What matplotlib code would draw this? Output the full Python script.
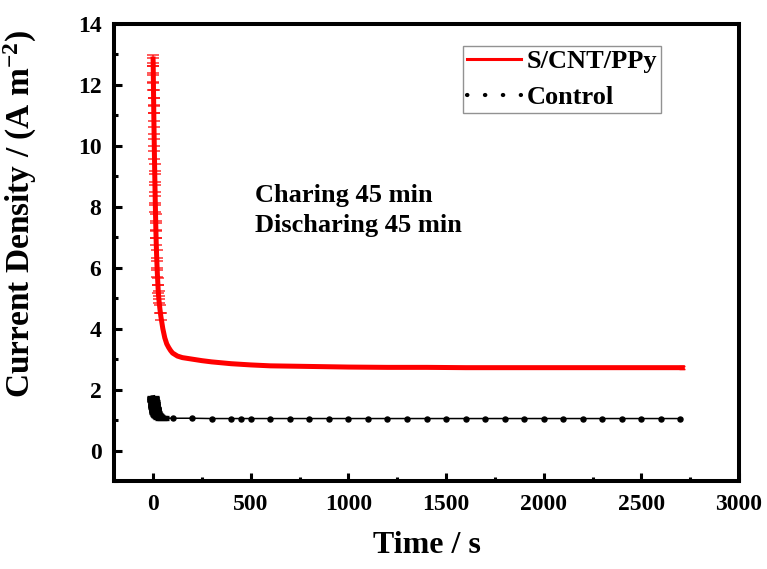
import matplotlib
matplotlib.use("Agg")
import matplotlib.pyplot as plt
from matplotlib.lines import Line2D
from matplotlib.ticker import MultipleLocator

# ---- data ----
red_t = [0, 0.5, 1, 1.5, 2, 2.5, 3, 3.5, 4, 5, 6, 7, 8, 9, 10, 11, 12, 13, 14, 15,
         16, 18, 20, 22, 24, 26, 28, 30, 35, 40, 45, 50, 60, 70, 80, 90, 100, 125,
         150, 200, 250, 300, 400, 500, 600, 700, 800, 1000, 1200, 1400, 1600, 1800,
         2000, 2200, 2400, 2600, 2710]
red_v = [12.85, 12.75, 12.5, 12.2, 11.95, 11.7, 11.45, 11.2, 10.95, 10.5, 10.1, 9.7,
         9.3, 8.95, 8.6, 8.25, 7.95, 7.65, 7.35, 7.1, 6.85, 6.45, 6.1, 5.8, 5.55,
         5.3, 5.1, 4.95, 4.65, 4.4, 4.2, 4.0, 3.7, 3.5, 3.38, 3.28, 3.2, 3.1, 3.05,
         3.0, 2.95, 2.91, 2.85, 2.81, 2.78, 2.77, 2.76, 2.74, 2.73, 2.73, 2.72, 2.72,
         2.72, 2.72, 2.72, 2.72, 2.72]
red_err = 0.12
red_err_until = 40  # error bars visible only in the initial spike (s)

ctrl_spike_t = [0, 1, 2, 3, 4, 5, 6, 7, 8, 9, 10, 11, 12, 14, 16, 18, 20, 25, 30,
                40, 50]
ctrl_spike_v = [1.74, 1.69, 1.64, 1.59, 1.54, 1.5, 1.46, 1.42, 1.38, 1.35, 1.32,
                1.29, 1.27, 1.23, 1.2, 1.17, 1.15, 1.12, 1.1, 1.08, 1.07]
ctrl_t = [50, 100, 200, 300, 400, 450, 500, 600, 700, 800, 900, 1000, 1100, 1200,
          1300, 1400, 1500, 1600, 1700, 1800, 1900, 2000, 2100, 2200, 2300, 2400,
          2500, 2600, 2700, 2710]
ctrl_v = [1.07, 1.06, 1.06, 1.05, 1.05, 1.05, 1.05, 1.05, 1.05, 1.05, 1.05, 1.05,
          1.05, 1.05, 1.05, 1.05, 1.05, 1.05, 1.05, 1.05, 1.05, 1.05, 1.05, 1.05,
          1.05, 1.05, 1.05, 1.05, 1.05, 1.05]

series_labels = ["S/CNT/PPy", "Control"]
xlabel = "Time / s"
ylabel = "Current Density / (A m$^{\\mathbf{-2}}$)"
note_lines = ["Charing 45 min", "Discharing 45 min"]

# ---- style ----
plt.rcParams['font.family'] = ['Liberation Serif', 'DejaVu Serif']
plt.rcParams['font.weight'] = 'bold'
plt.rcParams['mathtext.fontset'] = 'custom'
plt.rcParams['mathtext.rm'] = 'Liberation Serif:bold'
plt.rcParams['mathtext.bf'] = 'Liberation Serif:bold'
plt.rcParams['mathtext.default'] = 'bf'

W, H = 767, 569
fig = plt.figure(figsize=(W / 100, H / 100), dpi=100)
ax = fig.add_axes([114 / W, 1 - 481 / H, (739 - 114) / W, (481 - 24) / H])

# red series
ax.plot(red_t, red_v, color='#ff0000', lw=3.6, zorder=3, solid_joinstyle='round')
spike_t = [t for t in red_t if t <= red_err_until]
spike_v = [v for t, v in zip(red_t, red_v) if t <= red_err_until]
ax.errorbar(spike_t, spike_v, yerr=red_err, color='#ff0000', lw=0, elinewidth=1.2,
            capsize=4.2, capthick=1.2, alpha=0.75, zorder=3)
ax.errorbar([red_t[-1]], [red_v[-1]], yerr=0.05, color='#ff0000', lw=0,
            elinewidth=1, capsize=2.5, capthick=1, zorder=3)

# control series
ax.errorbar(ctrl_spike_t, ctrl_spike_v, yerr=0.03, color='black', lw=3.4,
            elinewidth=1.5, capsize=4.5, capthick=2.4, zorder=3)
ax.plot(ctrl_t, ctrl_v, color='black', lw=1.1, zorder=3)
ax.plot(ctrl_t[1:-1], ctrl_v[1:-1], linestyle='none', marker='o', markersize=3.6,
        color='black', zorder=4)

ax.set_xlim(-200, 3000)
ax.set_ylim(-1, 14)
ax.xaxis.set_major_locator(MultipleLocator(500))
ax.xaxis.set_minor_locator(MultipleLocator(250))
ax.yaxis.set_major_locator(MultipleLocator(2))
ax.yaxis.set_minor_locator(MultipleLocator(1))
ax.tick_params(which='both', direction='in', top=False, right=False, width=2.2,
               labelsize=17, pad=9)
ax.tick_params(which='major', length=6)
ax.tick_params(which='minor', length=3)
for lab in ax.get_xticklabels() + ax.get_yticklabels():
    lab.set_fontweight('bold')
for s in ax.spines.values():
    s.set_linewidth(2.9)

ax.set_xlabel(xlabel, fontsize=23, fontweight='bold')
ax.xaxis.set_label_coords(0.5, -0.11)
ax.set_ylabel(ylabel, fontsize=24, fontweight='bold')
ax.yaxis.set_label_coords(-0.12, 0.585)

# legend
handles = [Line2D([], [], color='#ff0000', lw=2.2),
           Line2D([], [], color='black', lw=3, linestyle=(0, (0.1, 4.2)),
                  dash_capstyle='round')]
leg = fig.legend(handles, series_labels, loc='upper left',
                 bbox_to_anchor=(463 / W, 1 - 46 / H), bbox_transform=fig.transFigure,
                 prop={'family': 'Liberation Serif', 'weight': 'bold', 'size': 19},
                 frameon=True, fancybox=False, borderaxespad=0, borderpad=0.15,
                 labelspacing=0.47, handlelength=2.05, handletextpad=0.2)
leg.get_frame().set_edgecolor('#777777')
leg.get_frame().set_linewidth(1.0)

fig.text(255 / W, 1 - 202 / H, note_lines[0], fontsize=19, fontweight='bold',
         va='baseline', ha='left')
fig.text(255 / W, 1 - 232 / H, note_lines[1], fontsize=19, fontweight='bold',
         va='baseline', ha='left')

fig.savefig('out.png', dpi=100)
